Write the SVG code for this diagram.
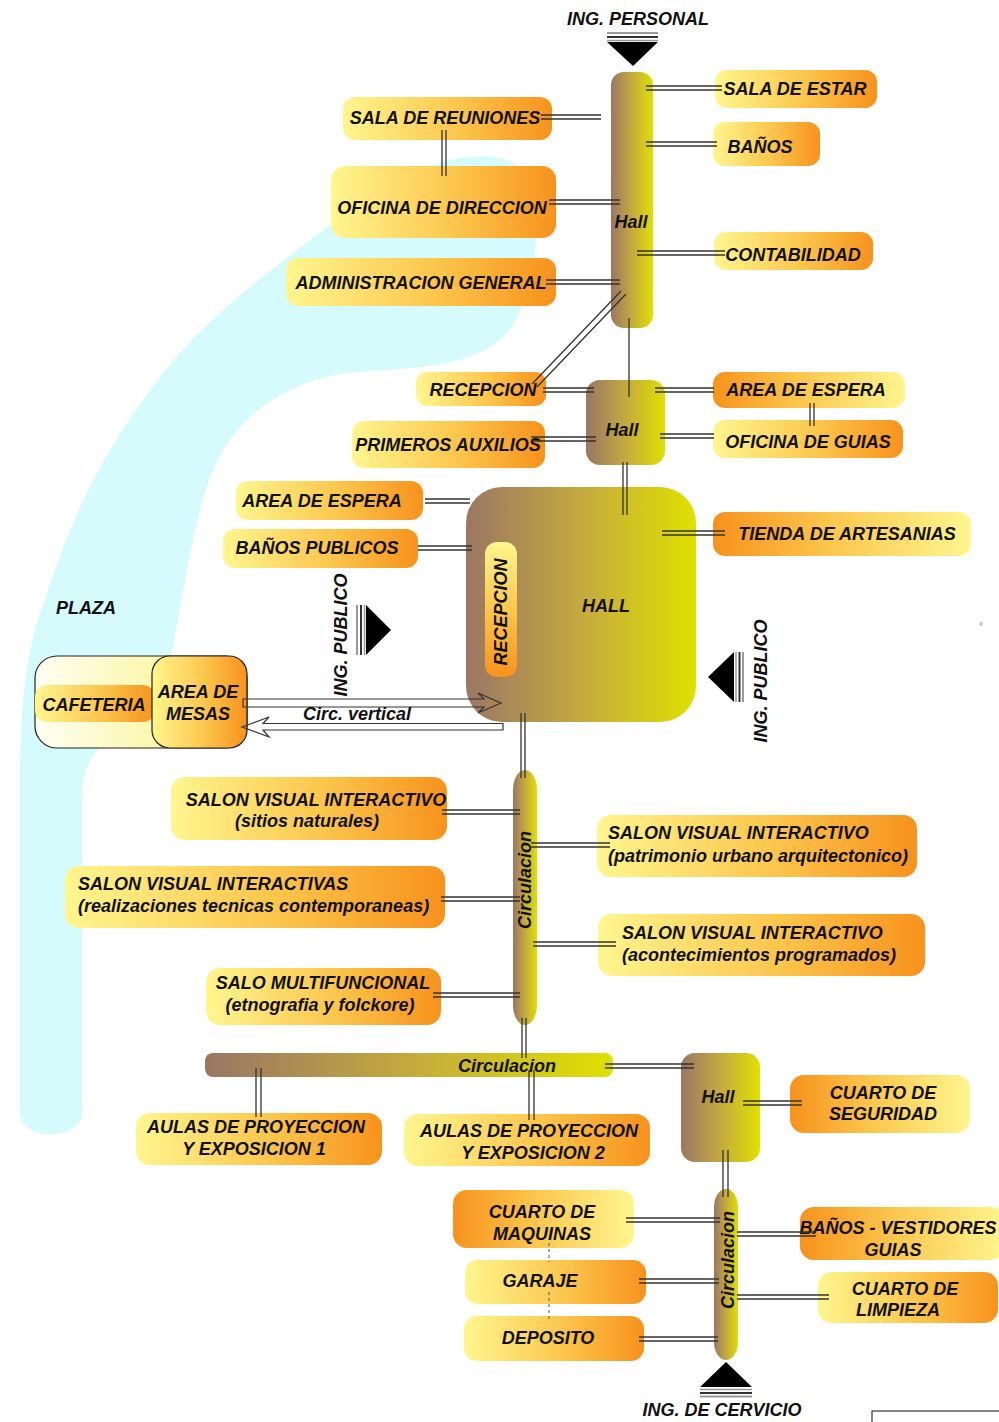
<svg xmlns="http://www.w3.org/2000/svg" width="999" height="1422" viewBox="0 0 999 1422">
<style>
.t{font-family:"Liberation Sans",Arial,sans-serif;font-weight:bold;font-style:italic;font-size:18px;fill:#111;text-anchor:middle}
.tl{text-anchor:start}
.dl{stroke:#333;stroke-width:1.3;fill:none}
.box{stroke:none}
</style>
<defs>
<linearGradient id="gYO" x1="0" y1="0" x2="1" y2="0"><stop offset="0" stop-color="#fff68f"/><stop offset="0.55" stop-color="#fcc64c"/><stop offset="1" stop-color="#f7921c"/></linearGradient>
<linearGradient id="gOY" x1="0" y1="0" x2="1" y2="0"><stop offset="0" stop-color="#f7921c"/><stop offset="0.45" stop-color="#fcc64c"/><stop offset="1" stop-color="#fff68f"/></linearGradient>
<linearGradient id="gH" x1="0" y1="0" x2="1" y2="0"><stop offset="0" stop-color="#9b7664"/><stop offset="0.5" stop-color="#c4aa3e"/><stop offset="1" stop-color="#e0e000"/></linearGradient>
<linearGradient id="gV" x1="0" y1="0" x2="0" y2="1"><stop offset="0" stop-color="#fff68f"/><stop offset="0.5" stop-color="#fcc64c"/><stop offset="1" stop-color="#f7921c"/></linearGradient>
<linearGradient id="gCaf" x1="0" y1="0" x2="1" y2="0"><stop offset="0" stop-color="#fffef2"/><stop offset="1" stop-color="#f8f27a"/></linearGradient>
</defs>
<rect width="999" height="1422" fill="#fff"/>

<g id="plaza">
<path d="M 20,1112 L 20,780 C 20,700 28,640 45,600 C 70,520 100,460 143,400 C 175,355 200,330 240,295 C 290,255 340,215 393,183 C 430,162 470,152 500,158 C 530,165 540,190 536,240 C 532,290 518,325 500,340 C 470,365 420,368 357,372 C 310,376 275,395 250,417 C 225,440 210,470 200,510 C 185,570 178,630 165,680 C 150,730 85,730 82,790 L 82,1112 C 82,1142 20,1142 20,1112 Z" fill="#d6fbfc"/>
<text class="t" x="86" y="613.5">PLAZA</text>
</g>

<g id="ing-personal">
<text class="t" x="638" y="25">ING. PERSONAL</text>
<line x1="607" y1="33" x2="658" y2="33" stroke="#999" stroke-width="2"/>
<line x1="607" y1="37" x2="658" y2="37" stroke="#333" stroke-width="2"/>
<line x1="607" y1="40.5" x2="658" y2="40.5" stroke="#999" stroke-width="1.5"/>
<polygon points="607,42 658,42 633,66" fill="#000"/>
</g>

<g id="hall-top"><rect x="611" y="72" width="42" height="256" rx="13" fill="url(#gH)"/><text class="t" x="631" y="227.5">Hall</text></g>
<g id="sala-estar"><rect class="box" x="715" y="70" width="162" height="38" rx="12" fill="url(#gYO)"/><text class="t" x="795" y="94.5">SALA DE ESTAR</text></g>
<g id="banos"><rect class="box" x="713" y="122" width="107" height="44" rx="12" fill="url(#gYO)"/><text class="t" x="760" y="152.5">BAÑOS</text></g>
<g id="sala-reuniones"><rect class="box" x="343" y="97" width="209" height="43" rx="12" fill="url(#gYO)"/><text class="t" x="445" y="123.5">SALA DE REUNIONES</text></g>
<g id="oficina-direccion"><rect class="box" x="331" y="166" width="225" height="72" rx="14" fill="url(#gYO)"/><text class="t" x="442" y="213.5">OFICINA DE DIRECCION</text></g>
<g id="administracion"><rect class="box" x="286" y="258" width="270" height="48" rx="12" fill="url(#gYO)"/><text class="t" x="421" y="288.5">ADMINISTRACION GENERAL</text></g>
<g id="contabilidad"><rect class="box" x="714" y="232" width="159" height="38" rx="12" fill="url(#gYO)"/><text class="t" x="793" y="260.5">CONTABILIDAD</text></g>

<g id="hall-small"><rect x="586" y="380" width="79" height="85" rx="14" fill="url(#gH)"/><text class="t" x="622" y="435.5">Hall</text></g>
<g id="recepcion-1"><rect class="box" x="416" y="372" width="130" height="34" rx="11" fill="url(#gYO)"/><text class="t" x="483" y="395.5">RECEPCION</text></g>
<g id="primeros-auxilios"><rect class="box" x="352" y="421" width="193" height="47" rx="12" fill="url(#gYO)"/><text class="t" x="448" y="450.5">PRIMEROS AUXILIOS</text></g>
<g id="area-espera-r"><rect class="box" x="713" y="372" width="192" height="36" rx="12" fill="url(#gOY)"/><text class="t" x="806" y="395.5">AREA DE ESPERA</text></g>
<g id="oficina-guias"><rect class="box" x="713" y="420" width="190" height="38" rx="12" fill="url(#gYO)"/><text class="t" x="808" y="447.5">OFICINA DE GUIAS</text></g>

<g id="hall-main"><rect x="466" y="487" width="230" height="235" rx="36" fill="url(#gH)"/><text class="t" x="606" y="611.5">HALL</text></g>
<g id="recepcion-2"><rect x="485" y="542" width="32" height="135" rx="12" fill="url(#gV)"/><text class="t" transform="translate(500,612) rotate(-90)" x="0" y="6.5">RECEPCION</text></g>
<g id="area-espera-l"><rect class="box" x="236" y="481" width="187" height="39" rx="12" fill="url(#gYO)"/><text class="t" x="322" y="506.5">AREA DE ESPERA</text></g>
<g id="banos-publicos"><rect class="box" x="223" y="529" width="195" height="39" rx="12" fill="url(#gYO)"/><text class="t" x="317" y="553.5">BAÑOS PUBLICOS</text></g>
<g id="tienda"><rect class="box" x="713" y="512" width="258" height="44" rx="12" fill="url(#gOY)"/><text class="t" x="847" y="539.5">TIENDA DE ARTESANIAS</text></g>

<g id="ing-publico-l">
<line x1="357" y1="605" x2="357" y2="655" stroke="#999" stroke-width="2"/>
<line x1="361" y1="605" x2="361" y2="655" stroke="#333" stroke-width="2"/>
<line x1="364.5" y1="605" x2="364.5" y2="655" stroke="#999" stroke-width="1.5"/>
<polygon points="366,605 366,655 391,630" fill="#000"/>
<text class="t" transform="translate(340,635) rotate(-90)" x="0" y="6.5">ING. PUBLICO</text>
</g>
<g id="ing-publico-r">
<polygon points="734,652 734,702 708,677" fill="#000"/>
<line x1="736" y1="652" x2="736" y2="702" stroke="#999" stroke-width="1.5"/>
<line x1="739.5" y1="652" x2="739.5" y2="702" stroke="#333" stroke-width="2"/>
<line x1="743" y1="652" x2="743" y2="702" stroke="#999" stroke-width="2"/>
<text class="t" transform="translate(760,681) rotate(-90)" x="0" y="6.5">ING. PUBLICO</text>
</g>

<g id="cafeteria">
<rect x="35" y="656" width="212" height="92" rx="22" fill="url(#gCaf)" stroke="#222" stroke-width="1.2"/>
<rect x="35" y="685" width="120" height="37" rx="12" fill="url(#gYO)"/>
<text class="t" x="94" y="710.5">CAFETERIA</text>
</g>
<g id="area-mesas">
<rect x="152" y="656" width="95" height="92" rx="18" fill="url(#gYO)" stroke="#222" stroke-width="1.2"/>
<text class="t" x="198" y="698">AREA DE</text>
<text class="t" x="198" y="720">MESAS</text>
</g>

<g id="circulacion-v1"><rect x="513" y="770" width="24" height="255" rx="12" ry="20" fill="url(#gH)"/><text class="t" transform="translate(524,880) rotate(-90)" x="0" y="6.5">Circulacion</text></g>
<g id="salon-sitios"><rect class="box" x="171" y="777" width="276" height="63" rx="14" fill="url(#gYO)"/><text class="t" x="316" y="806">SALON VISUAL INTERACTIVO</text><text class="t" x="307" y="827">(sitios naturales)</text></g>
<g id="salon-patrimonio"><rect class="box" x="597" y="815" width="320" height="62" rx="14" fill="url(#gYO)"/><text class="t tl" x="608" y="839">SALON VISUAL INTERACTIVO</text><text class="t tl" x="608" y="862">(patrimonio urbano arquitectonico)</text></g>
<g id="salon-realizaciones"><rect class="box" x="65" y="866" width="380" height="62" rx="14" fill="url(#gYO)"/><text class="t tl" x="78" y="890">SALON VISUAL INTERACTIVAS</text><text class="t tl" x="78" y="912">(realizaciones tecnicas contemporaneas)</text></g>
<g id="salon-acontecimientos"><rect class="box" x="598" y="914" width="327" height="62" rx="14" fill="url(#gYO)"/><text class="t tl" x="622" y="939">SALON VISUAL INTERACTIVO</text><text class="t tl" x="622" y="961">(acontecimientos programados)</text></g>
<g id="salo-multifuncional"><rect class="box" x="206" y="968" width="235" height="57" rx="14" fill="url(#gYO)"/><text class="t" x="323" y="989">SALO MULTIFUNCIONAL</text><text class="t" x="320" y="1011">(etnografia y folckore)</text></g>

<g id="circulacion-h"><rect x="205" y="1053" width="408" height="24" rx="8" fill="url(#gH)"/><text class="t" x="507" y="1071.5">Circulacion</text></g>
<g id="hall-lower"><rect x="681" y="1053" width="79" height="109" rx="14" fill="url(#gH)"/><text class="t" x="718" y="1102.5">Hall</text></g>
<g id="cuarto-seguridad"><rect class="box" x="790" y="1075" width="180" height="58" rx="14" fill="url(#gOY)"/><text class="t" x="883" y="1099">CUARTO DE</text><text class="t" x="883" y="1120">SEGURIDAD</text></g>
<g id="aulas-1"><rect class="box" x="136" y="1113" width="246" height="52" rx="14" fill="url(#gYO)"/><text class="t" x="256" y="1133">AULAS DE PROYECCION</text><text class="t" x="254" y="1155">Y EXPOSICION 1</text></g>
<g id="aulas-2"><rect class="box" x="404" y="1114" width="246" height="52" rx="14" fill="url(#gYO)"/><text class="t" x="529" y="1137">AULAS DE PROYECCION</text><text class="t" x="533" y="1159">Y EXPOSICION 2</text></g>

<g id="circulacion-v2"><rect x="714" y="1189" width="24" height="171" rx="12" ry="18" fill="url(#gH)"/><text class="t" transform="translate(727,1260) rotate(-90)" x="0" y="6.5">Circulacion</text></g>
<g id="cuarto-maquinas"><rect class="box" x="453" y="1190" width="181" height="58" rx="14" fill="url(#gOY)"/><text class="t" x="542" y="1218">CUARTO DE</text><text class="t" x="542" y="1240">MAQUINAS</text></g>
<g id="garaje"><rect class="box" x="465" y="1260" width="181" height="44" rx="13" fill="url(#gYO)"/><text class="t" x="540" y="1286.5">GARAJE</text></g>
<g id="deposito"><rect class="box" x="464" y="1316" width="180" height="45" rx="13" fill="url(#gYO)"/><text class="t" x="548" y="1343.5">DEPOSITO</text></g>
<g id="banos-vestidores"><rect class="box" x="800" y="1207" width="205" height="53" rx="14" fill="url(#gOY)"/><text class="t" x="898" y="1234">BAÑOS - VESTIDORES</text><text class="t" x="893" y="1256">GUIAS</text></g>
<g id="cuarto-limpieza"><rect class="box" x="818" y="1272" width="180" height="51" rx="14" fill="url(#gYO)"/><text class="t" x="905" y="1295">CUARTO DE</text><text class="t" x="898" y="1316">LIMPIEZA</text></g>

<g id="ing-servicio">
<polygon points="700,1387 752,1387 726,1362" fill="#000"/>
<line x1="700" y1="1389.5" x2="752" y2="1389.5" stroke="#999" stroke-width="1.5"/>
<line x1="700" y1="1393" x2="752" y2="1393" stroke="#333" stroke-width="2"/>
<line x1="700" y1="1396.5" x2="752" y2="1396.5" stroke="#999" stroke-width="2"/>
<text class="t" x="722" y="1416">ING. DE CERVICIO</text>
</g>

<g id="connectors">
<path class="dl" d="M646,86H722M646,90H722"/>
<path class="dl" d="M646,142H717M646,146H717"/>
<path class="dl" d="M541,115H601M541,119H601"/>
<path class="dl" d="M442,130V176M446,130V176"/>
<path class="dl" d="M549,200H620M549,204H620"/>
<path class="dl" d="M546,280H620M546,284H620"/>
<path class="dl" d="M637,251H725M637,255H725"/>
<path class="dl" d="M532,384L621,291M537,387L626,294"/>
<path class="dl" d="M629,318V397"/>
<path class="dl" d="M543,388H594M543,392H594"/>
<path class="dl" d="M531,437H596M531,441H596"/>
<path class="dl" d="M655,388H714M655,392H714"/>
<path class="dl" d="M660,434H714M660,438H714"/>
<path class="dl" d="M810,403V426M814,403V426"/>
<path class="dl" d="M623,462V515M627,462V515"/>
<path class="dl" d="M425,499H470M425,503H470"/>
<path class="dl" d="M418,546H472M418,550H472"/>
<path class="dl" d="M662,531H725M662,535H725"/>
<path class="dl" d="M521,713V778M525,713V778"/>
<path class="dl" d="M442,810H520M442,814H520"/>
<path class="dl" d="M531,843H610M531,847H610"/>
<path class="dl" d="M441,897H520M441,901H520"/>
<path class="dl" d="M533,942H616M533,946H616"/>
<path class="dl" d="M433,993H520M433,997H520"/>
<path class="dl" d="M522,1018V1058M526,1018V1058"/>
<path class="dl" d="M256,1068V1117M261,1068V1117"/>
<path class="dl" d="M529,1070V1120M534,1070V1120"/>
<path class="dl" d="M605,1064H694M605,1068H694"/>
<path class="dl" d="M743,1101H802M743,1105H802"/>
<path class="dl" d="M723,1150V1197M728,1150V1197"/>
<path class="dl" d="M626,1218H720M626,1222H720"/>
<path class="dl" d="M639,1279H719M639,1283H719"/>
<path class="dl" d="M639,1337H718M639,1341H718"/>
<path class="dl" d="M737,1232H816M737,1236H816"/>
<path class="dl" d="M737,1295H829M737,1299H829"/>
<path d="M549,1243V1262M549,1292V1320" stroke="#555" stroke-width="1" stroke-dasharray="3,3" fill="none"/>
<path d="M243,699H484L478,693L501,703L478,713L484,707H243Z" fill="none" stroke="#333" stroke-width="1.2"/>
<path d="M503,723.5H263L269,717L242,727L269,737L263,730H503Z" fill="none" stroke="#333" stroke-width="1.2"/>
<text class="t" x="357" y="720">Circ. vertical</text>
</g>

<text x="981" y="626" font-family="Liberation Sans,Arial,sans-serif" font-size="7" fill="#888" text-anchor="middle">x</text>
<rect x="872" y="1411" width="140" height="30" fill="none" stroke="#333" stroke-width="1.2"/>
</svg>
